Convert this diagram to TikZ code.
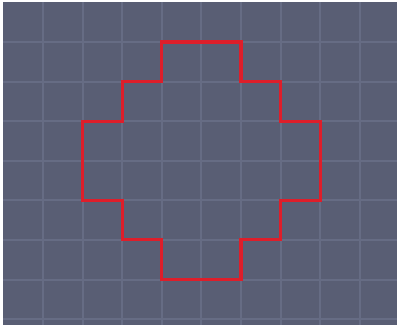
\documentclass[tikz,border=0pt]{standalone}
\usetikzlibrary{positioning}

\definecolor{panelbg}{RGB}{89,94,116}
\definecolor{gridgray}{RGB}{102,108,132}
\definecolor{outlinered}{RGB}{222,30,42}

\begin{document}
\begin{tikzpicture}[
    x=1cm,
    y=-1cm,
    panel/.style={
        fill=panelbg,
        draw=none
    },
    gridline/.style={
        draw=gridgray,
        line width=1.4pt
    },
    blob/.style={
        draw=outlinered,
        line width=2.2pt,
        line join=miter
    }
]

\useasboundingbox (-0.086,-0.06) rectangle (9.94,8.22);

% --- BACKGROUND PANEL -----------------------------------------

\fill[panel] (0,0) rectangle (9.94,8.15);

% --- GRID -----------------------------------------------------

\foreach \i in {1,...,9}
    \draw[gridline] (\i,0) -- (\i,8.15);
\foreach \j in {1,...,8}
    \draw[gridline] (0,\j) -- (9.94,\j);

% --- RED OUTLINE ----------------------------------------------

\draw[blob]
    (4,1) -- (6,1) -- (6,2) -- (7,2) -- (7,3) -- (8,3) -- (8,5)
    -- (7,5) -- (7,6) -- (6,6) -- (6,7) -- (4,7) -- (4,6) -- (3,6)
    -- (3,5) -- (2,5) -- (2,3) -- (3,3) -- (3,2) -- (4,2) -- cycle;

\end{tikzpicture}
\end{document}
